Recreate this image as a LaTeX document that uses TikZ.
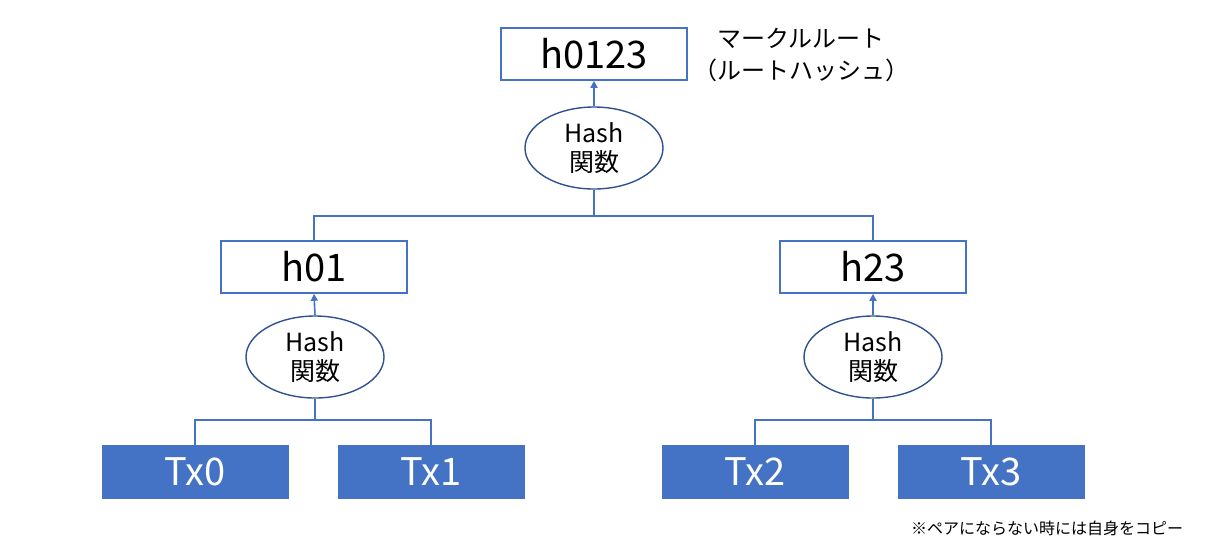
\documentclass[tikz,border=0pt]{standalone}
\usepackage{fontspec}
\setmainfont{Noto Sans CJK JP}
\usetikzlibrary{shapes.geometric,arrows.meta}
\definecolor{offblue}{HTML}{4472C4}
\definecolor{darkblue}{HTML}{2F528F}
\tikzset{
  hashbox/.style={draw=offblue,line width=1.6pt,fill=white,minimum width=186pt,minimum height=52pt,
    inner sep=0pt,font=\fontsize{38}{40}\selectfont},
  txbox/.style={fill=offblue,text=white,minimum width=187pt,minimum height=54pt,
    inner sep=0pt,font=\fontsize{38}{40}\selectfont},
  hashfn/.style={ellipse,draw=darkblue,line width=1.4pt,fill=white,minimum width=138pt,minimum height=82pt,
    inner sep=0pt,align=center,font=\fontsize{25}{29}\selectfont},
  link/.style={draw=offblue,line width=1.6pt},
  up/.style={link,-{Triangle[width=7pt,length=7pt]}}
}
\begin{document}
\begin{tikzpicture}[x=1pt,y=-1pt]
    \useasboundingbox (0,0) rectangle (1216,542);

    % root
    \node[hashbox] (h0123) at (594,54) {h0123};
    \node[align=center,font=\fontsize{24}{32}\selectfont] (rootlbl) at (801,55) {マークルルート\\（ルートハッシュ）};
    \node[hashfn] (f0123) at (594,148) {Hash\\関数};

    % level 1
    \node[hashbox] (h01) at (314,267) {h01};
    \node[hashbox] (h23) at (873,267) {h23};
    \node[hashfn] (f01) at (315,357) {Hash\\関数};
    \node[hashfn] (f23) at (873,357) {Hash\\関数};

    % leaves
    \node[txbox] (tx0) at (195,472) {Tx0};
    \node[txbox] (tx1) at (431,472) {Tx1};
    \node[txbox] (tx2) at (755,472) {Tx2};
    \node[txbox] (tx3) at (991,472) {Tx3};

    \node[font=\fontsize{16}{18}\selectfont] (note) at (1047,528) {※ペアにならない時には自身をコピー};

    % connectors
    \coordinate (j0123) at (594,216);
    \coordinate (j01) at (315,420);
    \coordinate (j23) at (873,420);
    \draw[link] (f0123.south) -- (j0123) -| (h01.north);
    \draw[link] (j0123) -| (h23.north);
    \draw[link] (f01.south) -- (j01) -| (tx0.north);
    \draw[link] (j01) -| (tx1.north);
    \draw[link] (f23.south) -- (j23) -| (tx2.north);
    \draw[link] (j23) -| (tx3.north);
    \draw[up] (f0123.north) -- (h0123.south);
    \draw[up] (f01.north) -- (h01.south);
    \draw[up] (f23.north) -- (h23.south);
\end{tikzpicture}
\end{document}
